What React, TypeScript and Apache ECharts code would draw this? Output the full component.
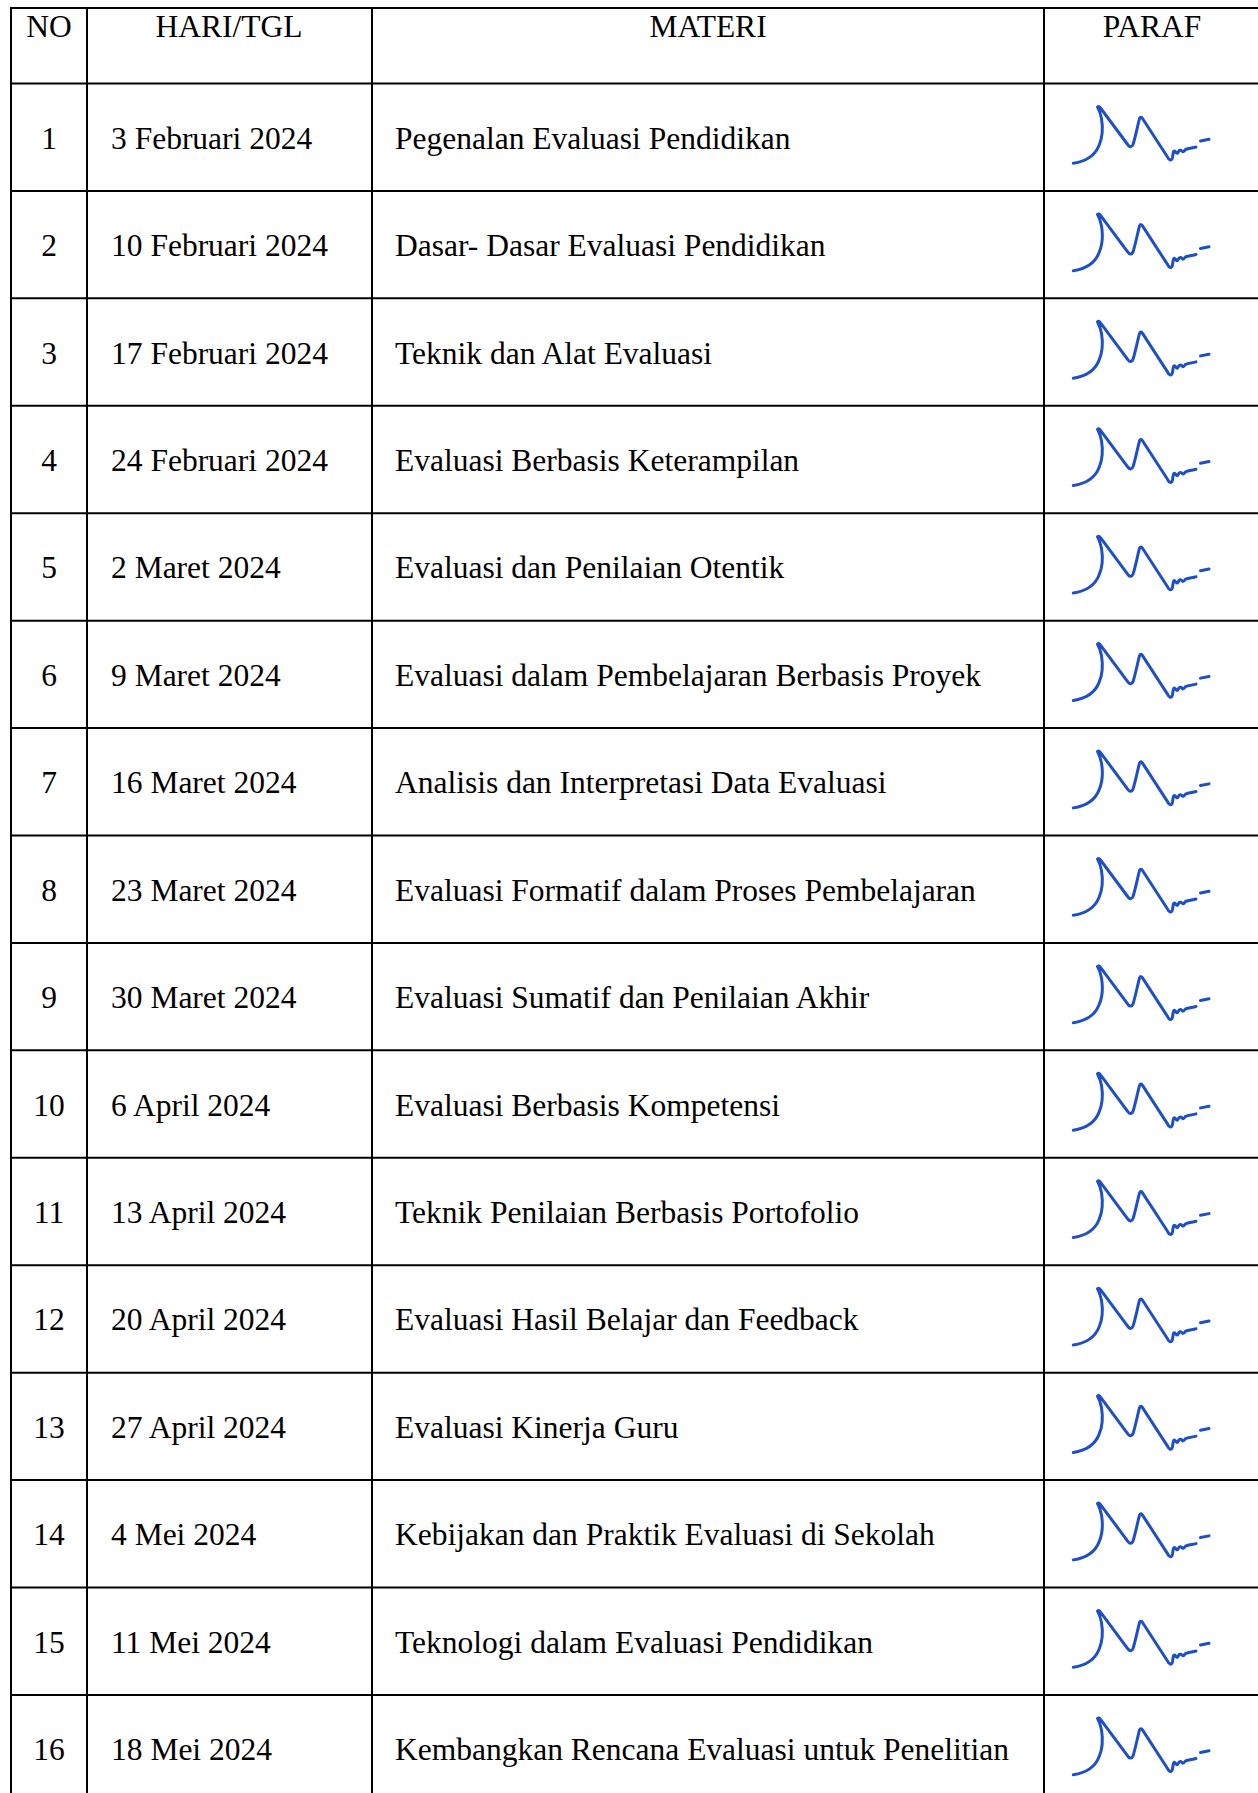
import React, { useEffect, useRef } from "react";
import * as echarts from "echarts";

const headers = ["NO", "HARI/TGL", "MATERI", "PARAF"];
const numbers = ["1", "2", "3", "4", "5", "6", "7", "8", "9", "10", "11", "12", "13", "14", "15", "16"];
const dates = [
  "3 Februari 2024",
  "10 Februari 2024",
  "17 Februari 2024",
  "24 Februari 2024",
  "2 Maret 2024",
  "9 Maret 2024",
  "16 Maret 2024",
  "23 Maret 2024",
  "30 Maret 2024",
  "6 April 2024",
  "13 April 2024",
  "20 April 2024",
  "27 April 2024",
  "4 Mei 2024",
  "11 Mei 2024",
  "18 Mei 2024",
];
const materi = [
  "Pegenalan Evaluasi Pendidikan",
  "Dasar- Dasar Evaluasi Pendidikan",
  "Teknik dan Alat Evaluasi",
  "Evaluasi Berbasis Keterampilan",
  "Evaluasi dan Penilaian Otentik",
  "Evaluasi dalam Pembelajaran Berbasis Proyek",
  "Analisis dan Interpretasi Data Evaluasi",
  "Evaluasi Formatif dalam Proses Pembelajaran",
  "Evaluasi Sumatif dan Penilaian Akhir",
  "Evaluasi Berbasis Kompetensi",
  "Teknik Penilaian Berbasis Portofolio",
  "Evaluasi Hasil Belajar dan Feedback",
  "Evaluasi Kinerja Guru",
  "Kebijakan dan Praktik Evaluasi di Sekolah",
  "Teknologi dalam Evaluasi Pendidikan",
  "Kembangkan Rencana Evaluasi untuk Penelitian",
];

const SIG_D =
  "M29.3,79.8 C41,78 51,72 55,62 C58.5,54 59,44 57.5,35 C56.5,30 55,26 53.5,23.5 C54.5,22.5 55.5,23 56.5,24.5 L84,61.5 C86,64 88,63.5 89,61 C91,55 93,45 95.5,35 C96.5,33 97.5,33.5 98.5,35 L123.5,73.5 C125,77 127.5,78 128.5,74 C129,70 129.5,67 130.5,67.5 C132,68.5 133,71 134,69 C135,66.5 136.5,66 138,67.5 C139,69 140,68 141.5,66 C144,65 148,64.5 152,63.5 M156.5,57.5 L165,55.8";

let registered = false;

export default function App() {
  const ref = useRef<HTMLDivElement>(null);
  useEffect(() => {
    document.body.style.margin = "0";
    if (!registered) {
      echarts.graphic.registerShape("sig", echarts.graphic.extendPath(SIG_D, {}) as any);
      registered = true;
    }
    const chart = echarts.init(ref.current!, null, { renderer: "svg" });
    const W = 1258;
    const colX = [11, 87, 372, 1044];
    const topY = 8;
    const headBottom = 83.5;
    const rowH = 107.43;
    const font = '31.5px "Liberation Serif", "Times New Roman", serif';
    const els: any[] = [];
    const lineStyle = { stroke: "#000", lineWidth: 2 };
    els.push({ type: "line", shape: { x1: colX[0] - 1, y1: topY, x2: W, y2: topY }, style: lineStyle });
    for (let i = 0; i <= numbers.length; i++) {
      const y = headBottom + i * rowH;
      els.push({ type: "line", shape: { x1: colX[0] - 1, y1: y, x2: W, y2: y }, style: lineStyle });
    }
    colX.forEach((x) => {
      els.push({ type: "line", shape: { x1: x, y1: topY - 1, x2: x, y2: 1800 }, style: lineStyle });
    });
    const txt = (text: string, x: number, y: number, align: string) => ({
      type: "text",
      x,
      y,
      style: {
        text,
        font,
        fill: "#000",
        textAlign: align,
        align,
        textVerticalAlign: "middle",
        verticalAlign: "middle",
      },
    });
    const headCenters = [49, 229, 708, 1152];
    headers.forEach((h, i) => els.push(txt(h, headCenters[i], 26, "center")));
    numbers.forEach((n, i) => {
      const top = headBottom + i * rowH;
      const cy = top + rowH / 2 + 1;
      els.push(txt(n, 49, cy, "center"));
      els.push(txt(dates[i], 111, cy, "left"));
      els.push(txt(materi[i], 395, cy, "left"));
      els.push({
        type: "sig",
        x: colX[3],
        y: top,
        style: {
          fill: "none",
          stroke: "#1f4fc6",
          lineWidth: 3,
          lineCap: "round",
          lineJoin: "round",
        },
      });
    });
    chart.setOption({
      animation: false,
      backgroundColor: "#fff",
      graphic: { elements: els },
    });
    return () => chart.dispose();
  }, []);
  return <div ref={ref} style={{ width: 1258, height: 1793 }} />;
}
